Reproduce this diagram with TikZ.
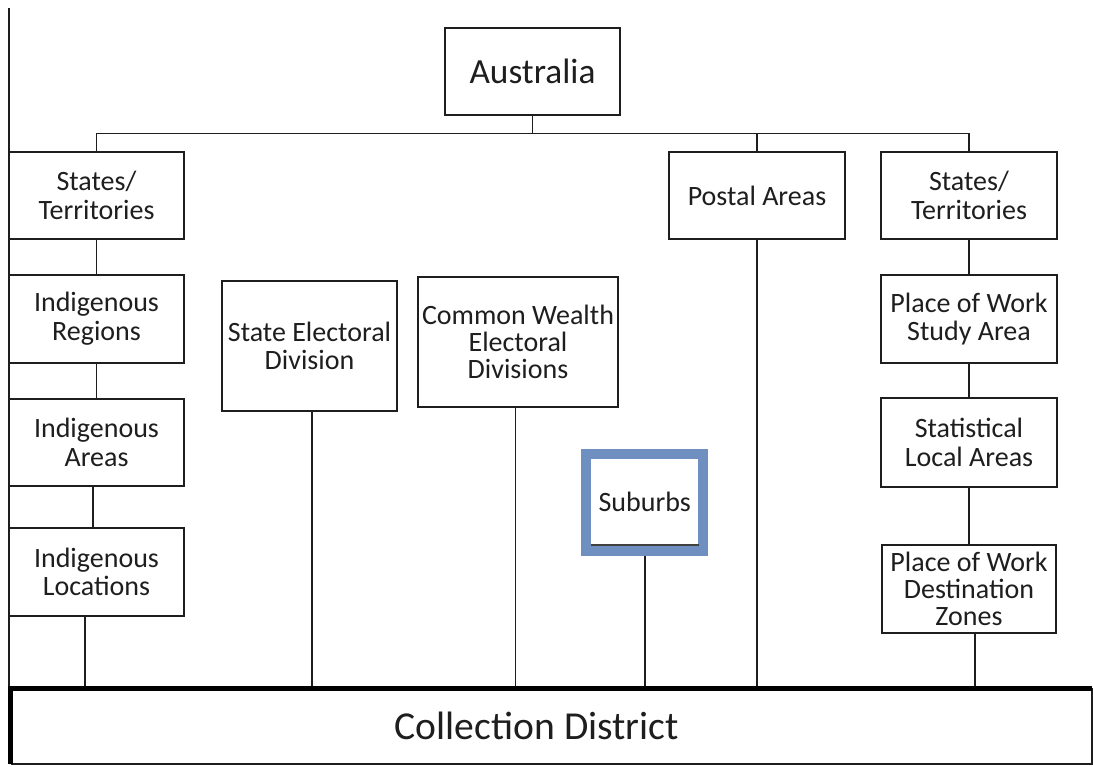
\documentclass[tikz,border=0pt]{standalone}
\usepackage{fontspec}
\setmainfont{Carlito}
\usetikzlibrary{calc}
\definecolor{ink}{HTML}{1E1E1E}
\definecolor{suburbblue}{HTML}{6F8FC0}
\begin{document}
\begin{tikzpicture}[x=0.75pt,y=-0.75pt,
  box/.style={draw=ink,line width=1.45pt,fill=white,align=center,inner sep=1pt,
    text=ink,font=\fontsize{21}{21.5}\selectfont},
  link/.style={draw=ink,line width=1.45pt},
  every node/.append style={anchor=center}]
\useasboundingbox[fill=white] (0,0) rectangle (1093,767);

% frame line down the left side
\coordinate (frametop) at (9,8);

% top of the hierarchy
\node[box,minimum width=131.25pt,minimum height=65.25pt,font=\fontsize{26.5}{28}\selectfont] (au) at (532.5,71.5) {Australia};
\coordinate (bus) at (0,133.5);

% left column: indigenous structure
\node[box,minimum width=131.25pt,minimum height=65.25pt] (stl) at (96.5,195.5) {States/\\Territories};
\node[box,minimum width=131.25pt,minimum height=66pt] (ir) at (96.5,319) {Indigenous\\Regions};
\node[box,minimum width=131.25pt,minimum height=65.25pt] (ia) at (96.5,442.5) {Indigenous\\Areas};
\node[box,minimum width=131.25pt,minimum height=66pt] (il) at (96.5,572) {Indigenous\\Locations};

% electoral divisions
\node[box,minimum width=131.25pt,minimum height=97.5pt] (sed) at (309.5,346) {State Electoral\\Division};
\node[box,minimum width=150pt,minimum height=97.5pt,font=\fontsize{21}{20.5}\selectfont] (cwe) at (518,342) {Common Wealth\\Electoral\\Divisions};

% suburbs
\node[box,draw=suburbblue,line width=7.5pt,minimum width=88.1pt,minimum height=72.4pt] (sub) at (644.75,502.25) {Suburbs};
\draw[ink!85,line width=0.9pt] (591,545) -- (699,545);

% postal areas
\node[box,minimum width=132pt,minimum height=65.25pt] (pa) at (757,195.5) {Postal Areas};

% right column: place of work structure
\node[box,minimum width=132pt,minimum height=65.25pt] (str) at (969,195.5) {States/\\Territories};
\node[box,minimum width=132pt,minimum height=66pt] (pws) at (969,319) {Place of Work\\Study Area};
\node[box,minimum width=132pt,minimum height=66.75pt] (sla) at (969,442.5) {Statistical\\Local Areas};
\node[box,minimum width=130.5pt,minimum height=66pt,font=\fontsize{21}{20.5}\selectfont] (pwd) at (969,589) {Place of Work\\Destination\\Zones};

% base level
\node[text=ink,font=\fontsize{29.7}{31}\selectfont,minimum width=810.75pt,minimum height=56.25pt] (cd) at (551.5,726) {Collection District\hspace*{22pt}};

% connectors from the top node
\draw[link] (au.south) -- (au.south |- bus);
\draw[link] (stl.north |- bus) -- (str.north |- bus);
\draw[link] (stl.north |- bus) -- (stl.north);
\draw[link] (pa.north |- bus) -- (pa.north);
\draw[link] (str.north |- bus) -- (str.north);

% left column chain
\coordinate (iax) at ([xshift=-2.85pt]ia.south);
\coordinate (ilx) at ([xshift=-8.6pt]il.south);
\draw[link] (stl.south) -- (ir.north);
\draw[link] (ir.south) -- (ia.north);
\draw[link] (iax) -- (iax |- il.north);
\draw[link] (ilx) -- (ilx |- cd.north);

% vertical drops to the base level
\coordinate (sedx) at ([xshift=1.9pt]sed.south);
\coordinate (cwex) at ([xshift=-1.9pt]cwe.south);
\coordinate (pwdx) at ([xshift=4.5pt]pwd.south);
\draw[link] (sedx) -- (sedx |- cd.north);
\draw[link] (cwex) -- (cwex |- cd.north);
\draw[link] (sub.south) -- (sub.south |- cd.north);
\draw[link] (pa.south) -- (pa.south |- cd.north);

% right column chain
\draw[link] (str.south) -- (pws.north);
\draw[link] (pws.south) -- (sla.north);
\draw[link] (sla.south) -- (pwd.north);
\draw[link] (pwdx) -- (pwdx |- cd.north);

% frame and base box outline
\draw[link] (frametop) -- (frametop |- cd.north);
\draw[ink,line width=1.45pt] (cd.north east) -- (cd.south east) -- (cd.south west);
\draw[black,line width=3.6pt] (cd.south west) -- (cd.north west) -- (cd.north east);
\end{tikzpicture}
\end{document}
